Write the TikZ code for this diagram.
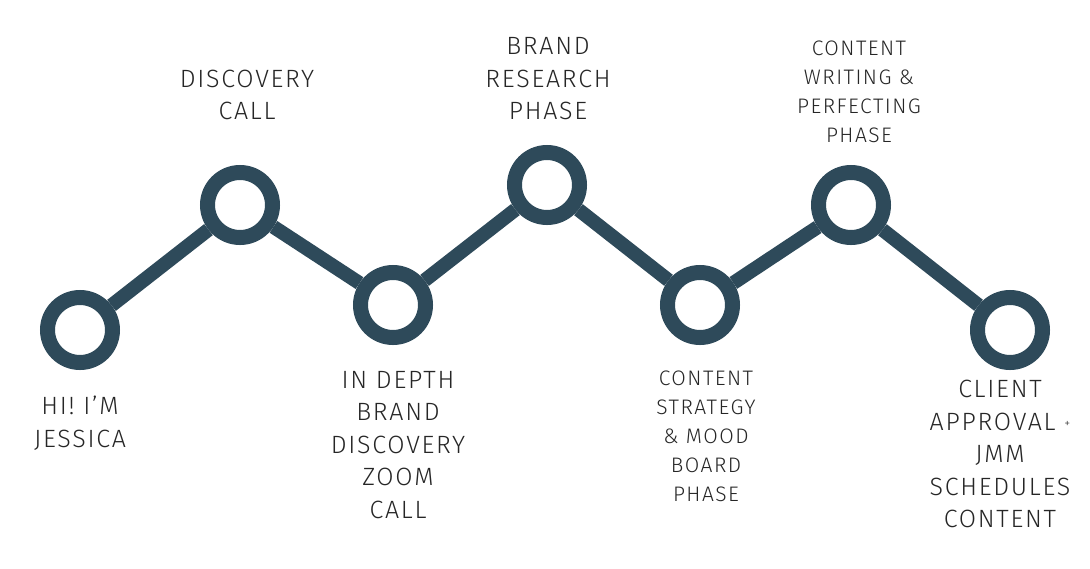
\documentclass[tikz,border=0pt]{standalone}
\usepackage{fontspec}
\setmainfont{Fira Sans Light}[LetterSpace=7]
\usepackage{tikz}
\usetikzlibrary{positioning}
\definecolor{slate}{HTML}{2E4A5A}

\begin{document}
\begin{tikzpicture}[x=1pt,y=-1pt]
  \tikzset{ ring/.style={circle,draw=slate,fill=white,line width=15pt,inner sep=0pt,minimum size=65pt},
    link/.style={draw=slate,line width=14pt},
    lbl/.style={align=center,text=black!85,font=\fontsize{25}{32.5}\selectfont},
    lblsm/.style={align=center,text=black!85,font=\fontsize{21}{29}\selectfont},
  }
  \useasboundingbox (0,0) rectangle (1090,568);
  \node[ring] (n1) at (80, 330) {};
  \node[ring] (n2) at (240, 205) {};
  \node[ring] (n3) at (393, 305) {};
  \node[ring] (n4) at (547, 185) {};
  \node[ring] (n5) at (700, 305) {};
  \node[ring] (n6) at (851, 205) {};
  \node[ring] (n7) at (1010, 330) {};

  % the zigzag between the rings
  \draw[link] (n1) -- (n2) -- (n3) -- (n4) -- (n5) -- (n6) -- (n7);

  % the labels
  \node[lbl] (t1) at (80, 423) {HI! I'M\\JESSICA};
  \node[lbl] (t2) at (247, 95) {DISCOVERY\\CALL};
  \node[lbl] (t3) at (398, 445) {IN DEPTH\\BRAND\\DISCOVERY\\ZOOM\\CALL};
  \node[lbl] (t4) at (548, 79) {BRAND\\RESEARCH\\PHASE};
  \node[lblsm] (t5) at (706, 436) {CONTENT\\STRATEGY\\\& MOOD\\BOARD\\PHASE};
  \node[lblsm] (t6) at (859, 92) {CONTENT\\WRITING \&\\PERFECTING\\PHASE};
  \node[lbl] (t7) at (1000, 454) {CLIENT\\APPROVAL \raisebox{3pt}{\fontsize{12}{12}\selectfont+}\\JMM\\SCHEDULES\\CONTENT};
\end{tikzpicture}
\end{document}
